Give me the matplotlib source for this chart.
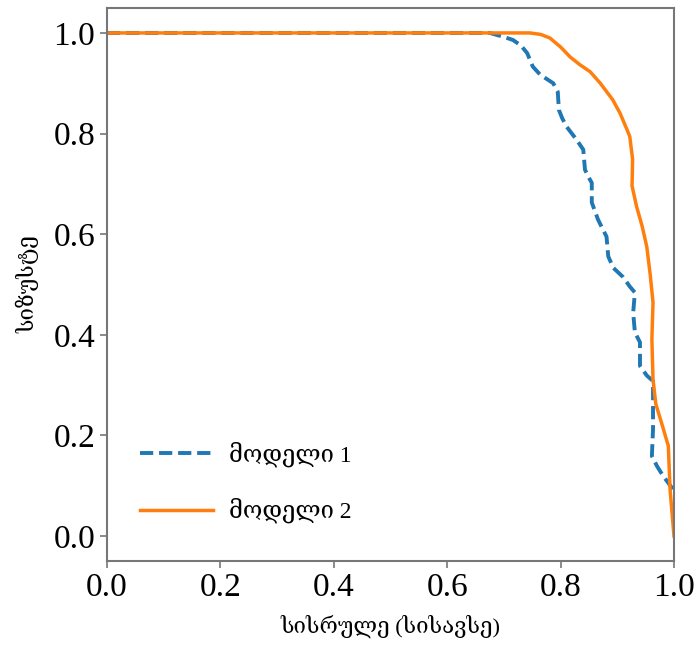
import numpy as np
import matplotlib.pyplot as plt

# model 1 (dashed blue)
recall_1 = [0.0, 0.675, 0.700, 0.716, 0.730, 0.741, 0.751, 0.764, 0.787, 0.795,
            0.797, 0.803, 0.811, 0.828, 0.840, 0.843, 0.850, 0.855, 0.855, 0.866,
            0.881, 0.884, 0.893, 0.910, 0.922, 0.931, 0.928, 0.931, 0.940, 0.940,
            0.952, 0.963, 0.963, 0.963, 0.961, 0.970, 0.981, 0.989, 0.998]
precision_1 = [1.0, 1.0, 0.992, 0.986, 0.975, 0.96, 0.933, 0.917, 0.90, 0.883,
               0.847, 0.830, 0.813, 0.788, 0.768, 0.728, 0.712, 0.702, 0.663, 0.629,
               0.595, 0.556, 0.533, 0.515, 0.496, 0.484, 0.444, 0.405, 0.385, 0.338,
               0.319, 0.308, 0.266, 0.212, 0.159, 0.139, 0.119, 0.107, 0.093]

# model 2 (solid orange)
recall_2 = [0.0, 0.746, 0.765, 0.781, 0.800, 0.817, 0.835, 0.852, 0.870, 0.892,
            0.905, 0.917, 0.922, 0.927, 0.926, 0.934, 0.944, 0.952, 0.958, 0.963,
            0.961, 0.963, 0.968, 0.978, 0.990, 0.993, 1.0]
precision_2 = [1.0, 1.0, 0.997, 0.99, 0.972, 0.952, 0.936, 0.923, 0.90, 0.867,
               0.840, 0.808, 0.794, 0.749, 0.696, 0.655, 0.615, 0.575, 0.520, 0.464,
               0.391, 0.311, 0.262, 0.225, 0.179, 0.093, 0.0]

labels = ["მოდელი 1", "მოდელი 2"]
xlabel = "სისრულე (სისავსე)"
ylabel = "სიზუსტე"

serif = ["Liberation Serif", "DejaVu Serif"]
plt.rcParams["font.family"] = serif

fig = plt.figure(figsize=(6.97, 6.48), dpi=100)
ax = fig.add_axes([0.1535, 0.134, 0.8135, 0.854])

ax.plot(recall_1, precision_1, "--", color="#1f77b4", lw=2.8, dashes=(3.4, 1.5), label=labels[0])
ax.plot(recall_2, precision_2, "-", color="#ff7f0e", lw=2.5, label=labels[1])

ax.set_xlim(0, 1)
ax.set_ylim(-0.05, 1.05)
ax.set_xticks(np.arange(0, 1.01, 0.2))
ax.set_yticks(np.arange(0, 1.01, 0.2))
ax.tick_params(labelsize=24, color="#777777", length=5, width=1.2)
for s in ax.spines.values():
    s.set_color("#777777")
    s.set_linewidth(1.5)

ax.set_xlabel(xlabel, fontsize=16, labelpad=8)
ax.set_ylabel(ylabel, fontsize=16, labelpad=10)

ax.legend(loc="lower left", bbox_to_anchor=(0.02, 0.03), frameon=False,
          fontsize=17, handlelength=3.1, handletextpad=0.7, labelspacing=1.3)

fig.savefig("out.png", dpi=100)
